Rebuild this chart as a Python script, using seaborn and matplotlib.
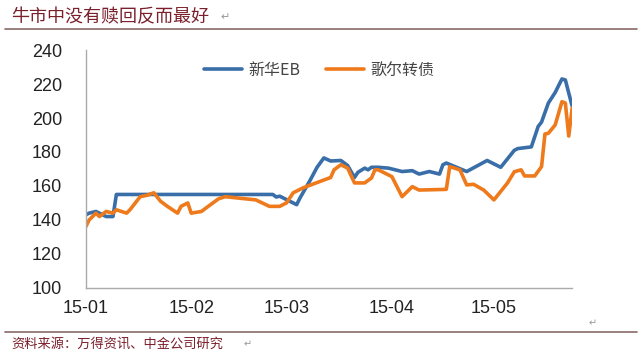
import pandas as pd
import matplotlib.pyplot as plt
import matplotlib.dates as mdates
import seaborn as sns

# 新华EB 的拐点（日期, 数值）
xinhua_dates = ['2015-01-01', '2015-01-02', '2015-01-04', '2015-01-07', '2015-01-09',
                '2015-01-10', '2015-02-25', '2015-02-26', '2015-02-27', '2015-03-01',
                '2015-03-04', '2015-03-05', '2015-03-08', '2015-03-10', '2015-03-12',
                '2015-03-14', '2015-03-17', '2015-03-19', '2015-03-21', '2015-03-22',
                '2015-03-24', '2015-03-25', '2015-03-26', '2015-03-28', '2015-03-31',
                '2015-04-04', '2015-04-07', '2015-04-09', '2015-04-12', '2015-04-15',
                '2015-04-16', '2015-04-17', '2015-04-20', '2015-04-23', '2015-04-29',
                '2015-05-03', '2015-05-07', '2015-05-08', '2015-05-12', '2015-05-14',
                '2015-05-15', '2015-05-17', '2015-05-19', '2015-05-21', '2015-05-22',
                '2015-05-24']
xinhua_vals = [143, 144, 145, 142, 142,
               155, 155, 153.5, 154, 152,
               149, 153, 163.5, 171, 176.5,
               174.7, 175, 172, 165, 168,
               170.5, 169.5, 171, 171, 170.5,
               168.5, 169, 167, 168.5, 167,
               172.5, 173.5, 171, 168.5, 175,
               171, 181, 182, 183, 195,
               197.6, 208.8, 215, 223, 222.4,
               207]

# 歌尔转债
goer_dates = ['2015-01-01', '2015-01-02', '2015-01-04', '2015-01-05', '2015-01-07',
              '2015-01-09', '2015-01-10', '2015-01-13', '2015-01-14', '2015-01-17',
              '2015-01-19', '2015-01-21', '2015-01-23', '2015-01-25', '2015-01-28',
              '2015-01-29', '2015-01-31', '2015-02-01', '2015-02-04', '2015-02-06',
              '2015-02-09', '2015-02-11', '2015-02-20', '2015-02-24', '2015-02-27',
              '2015-03-01', '2015-03-03', '2015-03-06', '2015-03-10', '2015-03-14',
              '2015-03-15', '2015-03-17', '2015-03-19', '2015-03-21', '2015-03-24',
              '2015-03-26', '2015-03-27', '2015-03-28', '2015-04-01', '2015-04-04',
              '2015-04-07', '2015-04-09', '2015-04-17', '2015-04-18', '2015-04-21',
              '2015-04-23', '2015-04-25', '2015-04-28', '2015-05-01', '2015-05-05',
              '2015-05-07', '2015-05-09', '2015-05-10', '2015-05-13', '2015-05-15',
              '2015-05-16', '2015-05-17', '2015-05-19', '2015-05-21', '2015-05-22',
              '2015-05-23', '2015-05-24']
goer_vals = [136, 140, 144, 142, 145,
             144, 146, 144, 146, 153.7,
             154.5, 156, 151, 148, 144,
             148, 150, 144, 145, 148,
             152.4, 153.7, 151.8, 148, 148,
             150, 156, 159, 162, 165,
             169.5, 172.5, 170.5, 161.8, 161.8,
             164.7, 169.5, 169.5, 165.5, 153.7,
             159.6, 157.6, 158, 171.4, 169.5,
             160.6, 161, 157.6, 151.8, 161.8,
             168.4, 169.5, 165.9, 165.9, 171.4,
             190.6, 191, 195.9, 209.6, 208.8,
             189.4, 205.9]

df = pd.concat([
    pd.DataFrame({'date': pd.to_datetime(xinhua_dates), 'value': xinhua_vals, 'series': '新华EB'}),
    pd.DataFrame({'date': pd.to_datetime(goer_dates), 'value': goer_vals, 'series': '歌尔转债'}),
])

sns.set_style('white')
plt.rcParams['font.family'] = ['Liberation Sans', 'Noto Sans CJK SC', 'DejaVu Sans']

fig = plt.figure(figsize=(6.4, 3.55), dpi=100)
ax = fig.add_axes([0.134, 0.189, 0.76, 0.67])

sns.lineplot(data=df, x='date', y='value', hue='series', sort=False,
             palette={'新华EB': '#3a6ea8', '歌尔转债': '#ee7a1c'},
             linewidth=2.6, ax=ax)

ax.set_ylim(100, 240)
ax.set_yticks(range(100, 241, 20))
ax.set_xlim(pd.Timestamp('2015-01-01'), pd.Timestamp('2015-05-24'))
ax.xaxis.set_major_locator(mdates.MonthLocator())
ax.xaxis.set_major_formatter(mdates.DateFormatter('%y-%m'))
ax.set_xlabel('')
ax.set_ylabel('')
ax.tick_params(axis='both', direction='in', length=4, color='#999999',
               labelsize=13, labelcolor='#222222')
ax.tick_params(axis='y', pad=17)
ax.tick_params(axis='x', pad=9)
for s in ['top', 'right']:
    ax.spines[s].set_visible(False)
for s in ['left', 'bottom']:
    ax.spines[s].set_color('#aaaaaa')
    ax.spines[s].set_linewidth(1)

leg = ax.legend(loc='upper center', bbox_to_anchor=(0.48, 1.01), ncol=2, frameon=False,
                fontsize=11.5, handlelength=2.4, columnspacing=1.6, handletextpad=0.4)
for t in leg.get_texts():
    t.set_color('#444444')
    t.set_family(['Noto Sans CJK SC', 'DejaVu Sans'])

# 标题和来源
dark_red = '#7a1f2b'
fig.text(0.017, 0.952, '牛市中没有赎回反而最好', fontsize=13, color=dark_red,
         family=['Noto Sans CJK SC'], va='center', ha='left')
fig.text(0.345, 0.952, '↵', fontsize=8, color='#999999', family=['DejaVu Sans'], va='center')
fig.add_artist(plt.Line2D([0.008, 0.995], [0.918, 0.918], color='#8a6a6a', linewidth=1.2))
fig.add_artist(plt.Line2D([0.008, 0.995], [0.065, 0.065], color='#8a6a6a', linewidth=1.2))
fig.text(0.017, 0.03, '资料来源：万得资讯、中金公司研究', fontsize=9.5, color=dark_red,
         family=['Noto Sans CJK SC'], va='center', ha='left')
fig.text(0.38, 0.03, '↵', fontsize=7, color='#999999', family=['DejaVu Sans'], va='center')
fig.text(0.92, 0.09, '↵', fontsize=7, color='#999999', family=['DejaVu Sans'], va='center')

fig.savefig('out.png', dpi=100)
